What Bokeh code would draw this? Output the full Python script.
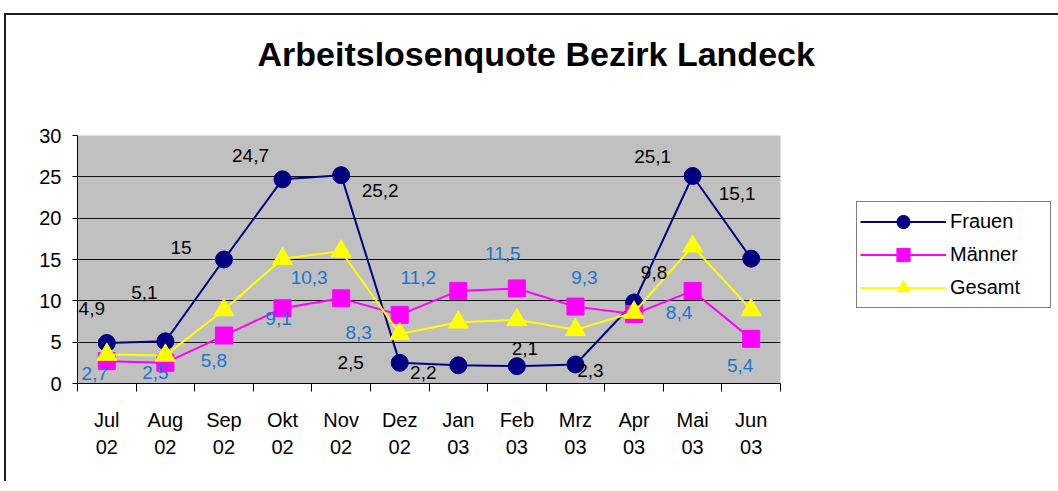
from bokeh.plotting import figure
from bokeh.models import (Range1d, FixedTicker, ColumnDataSource, LabelSet,
                          Legend, LegendItem, Title)
from bokeh.core.properties import value
from bokeh.embed import file_html
from bokeh.resources import INLINE

# ---- data ----
months = ["Jul\n02", "Aug\n02", "Sep\n02", "Okt\n02", "Nov\n02", "Dez\n02",
          "Jan\n03", "Feb\n03", "Mrz\n03", "Apr\n03", "Mai\n03", "Jun\n03"]
frauen = [4.9, 5.1, 15.0, 24.7, 25.2, 2.5, 2.2, 2.1, 2.3, 9.8, 25.1, 15.1]
maenner = [2.7, 2.5, 5.8, 9.1, 10.3, 8.3, 11.2, 11.5, 9.3, 8.4, 11.2, 5.4]
gesamt = [3.5, 3.4, 8.9, 15.1, 16.0, 6.0, 7.4, 7.7, 6.5, 8.6, 16.6, 8.9]
frauen_labels = ["4,9", "5,1", "15", "24,7", "25,2", "2,5", "2,2", "2,1", "2,3", "9,8", "25,1", "15,1"]
maenner_labels = ["2,7", "2,5", "5,8", "9,1", "10,3", "8,3", "11,2", "11,5", "9,3", "8,4", "", "5,4"]
y_ticks = [0, 5, 10, 15, 20, 25, 30]
title_text = "Arbeitslosenquote Bezirk Landeck"

# ---- label placement (screen px offsets, style only) ----
frauen_dx = [-15, -21, -43, -32, 39, -49, -35, 8, 15, 20, -40, -14]
frauen_dy = [34, 49, 12, 24, -15, 0, -7, 18, -6, 30, 20, 65]
maenner_dx = [-12, -10, -10, -4, -32, -41, -40, -14, 9, 45, 0, -11]
maenner_dy = [-12, -10, -25, -10, 21, -18, 13, 35, 29, 2, 0, -27]

FONT = "Liberation Sans"
W, H = 1044, 466
FL, FT, FW, FH = 71, 120, 703, 248  # frame geometry on canvas

n = len(months)
xs = [i + 0.5 for i in range(n)]

p = figure(frame_width=FW, frame_height=FH, output_backend="svg", toolbar_location=None,
           x_range=Range1d(0, n), y_range=Range1d(0, 30),
           min_border_left=FL, min_border_right=W - FL - FW,
           min_border_top=FT, min_border_bottom=H - FT - FH)
p.styles = {"border-left": "2px solid #1e1e1e", "border-top": "2px solid #1e1e1e",
            "margin-top": "13px", "margin-left": "4px"}
p.background_fill_color = "#C0C0C0"
p.border_fill_color = "white"
p.outline_line_color = None

xax = p.below[0]
yax = p.left[0]

# axes
xax.ticker = FixedTicker(ticks=xs, minor_ticks=list(range(n + 1)))
xax.major_label_overrides = {x: m for x, m in zip(xs, months)}
xax.major_tick_out = 0
xax.major_tick_in = 0
xax.minor_tick_out = 8
xax.minor_tick_in = 0
xax.minor_tick_line_color = "black"
xax.major_label_standoff = 17
xax.major_label_text_line_height = 1.25
yax.ticker = FixedTicker(ticks=y_ticks)
yax.major_tick_out = 5
yax.major_tick_in = 0
yax.minor_tick_out = 0
yax.major_label_standoff = 11
for ax in (xax, yax):
    ax.axis_line_color = "black"
    ax.major_tick_line_color = "black"
    ax.major_label_text_font = FONT
    ax.major_label_text_font_size = "20px"
    ax.major_label_text_color = "black"

# spacer next to the frame (first = nearest), then the title above it
p.add_layout(Title(text=".", text_color="white", text_font_size="1px", standoff=42), "above")
p.add_layout(Title(text=title_text, text_font=FONT, text_font_size="34px",
                   text_font_style="bold", text_color="black", align="left",
                   offset=180, standoff=33, vertical_align="middle"), "above")

p.xgrid.grid_line_color = None
p.ygrid.ticker = FixedTicker(ticks=y_ticks)
p.ygrid.grid_line_color = "#111111"
p.ygrid.grid_line_width = 1

# series
l1 = p.line(xs, frauen, line_color="#000080", line_width=2)
s1 = p.scatter(xs, frauen, marker="circle", size=17, fill_color="#000080", line_color="#000080")
l2 = p.line(xs, maenner, line_color="#FF00FF", line_width=2)
s2 = p.scatter(xs, maenner, marker="square", size=17, fill_color="#FF00FF", line_color="#FF00FF")
l3 = p.line(xs, gesamt, line_color="#FFFF00", line_width=2)
s3 = p.scatter(xs, gesamt, marker="triangle", size=20, fill_color="#FFFF00", line_color="#FFFF00")


def label_source(vals, labels, dx, dy):
    keep = [i for i, t in enumerate(labels) if t]
    return ColumnDataSource(dict(x=[xs[i] for i in keep], y=[vals[i] for i in keep],
                                 t=[labels[i] for i in keep], dx=[dx[i] for i in keep],
                                 dy=[dy[i] for i in keep]))


src_f = label_source(frauen, frauen_labels, frauen_dx, frauen_dy)
src_m = label_source(maenner, maenner_labels, maenner_dx, maenner_dy)
p.add_layout(LabelSet(x="x", y="y", text="t", x_offset="dx", y_offset="dy", source=src_f,
                      text_font=value(FONT), text_font_size=value("19px"), text_color="black",
                      text_align="center", text_baseline="middle"))
p.add_layout(LabelSet(x="x", y="y", text="t", x_offset="dx", y_offset="dy", source=src_m,
                      text_font=value(FONT), text_font_size=value("19px"), text_color="#1a75cf",
                      text_align="center", text_baseline="middle"))

legend = Legend(items=[LegendItem(label="Frauen", renderers=[l1, s1]),
                       LegendItem(label="Männer", renderers=[l2, s2]),
                       LegendItem(label="Gesamt", renderers=[l3, s3])],
                location=(76, 75))
legend.border_line_color = "black"
legend.border_line_width = 1
legend.background_fill_color = "white"
legend.background_fill_alpha = 1
legend.padding = 3
legend.spacing = 0
legend.margin = 0
legend.glyph_width = 86
legend.glyph_height = 33
legend.label_height = 22
legend.label_width = 97
legend.label_standoff = 4
legend.label_text_font = FONT
legend.label_text_font_size = "20px"
legend.label_text_color = "black"
p.add_layout(legend, "right")

open("out.html", "w").write(file_html(p, INLINE))
